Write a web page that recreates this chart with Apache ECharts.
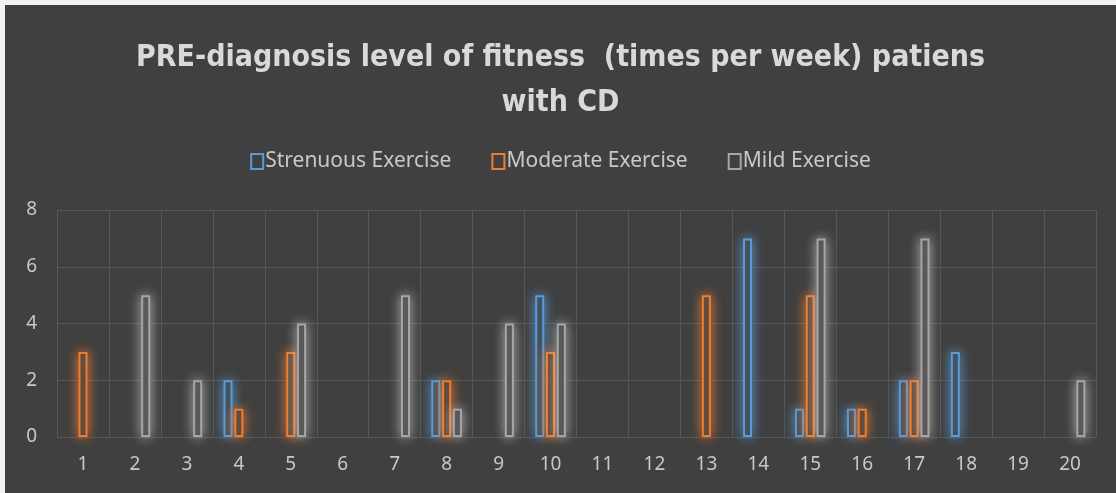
<!DOCTYPE html>
<html>
<head>
<meta charset="utf-8">
<script src="https://cdn.jsdelivr.net/npm/echarts@6/dist/echarts.min.js"></script>
<style>
  html, body { margin: 0; padding: 0; background: #f2f2f2; }
  #chart { position: absolute; left: 5px; top: 5px; width: 1111px; height: 488px; background: #404040; }
</style>
</head>
<body>
<div id="chart"></div>
<script>
const categories = ['1','2','3','4','5','6','7','8','9','10','11','12','13','14','15','16','17','18','19','20'];
// null = no bar drawn (slot still kept)
const strenuous = [null, null, null, 2, null, null, null, 2, null, 5, null, null, null, 7, 1, 1, 2, 3, null, null];
const moderate  = [3, null, null, 1, 3, null, null, 2, null, 3, null, null, 5, null, 5, 1, 2, null, null, null];
const mild      = [null, 5, 2, null, 4, null, 5, 1, 4, 4, null, null, null, null, 7, null, 7, null, null, 2];

const titleFont = '"DejaVu Sans Condensed", "Noto Sans", sans-serif';
const labelFont = '"Noto Sans", sans-serif';

function barSeries(name, color, glow, data) {
  return {
    name: name,
    type: 'bar',
    barWidth: 9,
    barGap: '20%',
    itemStyle: {
      color: '#404040',
      borderColor: color,
      borderWidth: 2,
      borderRadius: 0,
      shadowColor: glow,
      shadowBlur: 12
    },
    emphasis: { disabled: true },
    data: data
  };
}

const chart = echarts.init(document.getElementById('chart'));
chart.setOption({
  backgroundColor: '#404040',
  animation: false,
  title: {
    text: 'PRE-diagnosis level of fitness  (times per week) patiens\nwith CD',
    left: 'center',
    top: 26,
    textStyle: {
      color: '#d9d9d9',
      fontSize: 30,
      fontWeight: 'bold',
      fontFamily: titleFont,
      lineHeight: 45
    }
  },
  legend: {
    top: 141,
    left: 'center',
    icon: 'rect',
    itemWidth: 12,
    itemHeight: 15,
    itemGap: 40,
    textStyle: { color: '#c8c8c8', fontSize: 21, fontFamily: labelFont, padding: [0, 0, 0, -3] },
    data: ['Strenuous Exercise', 'Moderate Exercise', 'Mild Exercise']
  },
  grid: { left: 52, right: 20, top: 205, bottom: 56 },
  xAxis: {
    type: 'category',
    data: categories,
    axisLine: { show: false },
    axisTick: { show: false },
    axisLabel: { color: '#c8c8c8', fontSize: 19, fontFamily: labelFont, margin: 18 },
    splitLine: { show: true, interval: 0, lineStyle: { color: '#575757', width: 1 } }
  },
  yAxis: {
    type: 'value',
    min: 0,
    max: 8,
    interval: 2,
    axisLine: { show: false },
    axisTick: { show: false },
    axisLabel: { color: '#c8c8c8', fontSize: 19, fontFamily: labelFont, margin: 20 },
    splitLine: { lineStyle: { color: '#575757', width: 1 } }
  },
  series: [
    barSeries('Strenuous Exercise', '#5b9bd5', 'rgba(91,155,213,0.9)', strenuous),
    barSeries('Moderate Exercise', '#ed7d31', 'rgba(237,125,49,0.9)', moderate),
    barSeries('Mild Exercise', '#a5a5a5', 'rgba(200,200,200,0.8)', mild)
  ]
});
</script>
</body>
</html>
